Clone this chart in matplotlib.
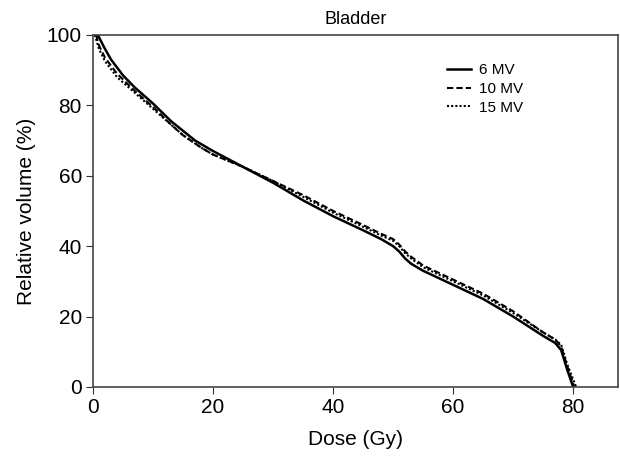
import matplotlib.pyplot as plt

plt.rcParams['font.family'] = ['Liberation Sans', 'DejaVu Sans']

# dose-volume data
dose_6mv = [0.8, 2, 3, 5, 7, 10, 13, 17, 20, 25, 30, 35, 40, 45, 48, 50,
            51, 52, 53, 55, 60, 65, 70, 75, 77, 78, 79, 80]
vol_6mv = [100, 96, 93, 88.5, 85, 80.5, 75.5, 70, 67, 62.5, 58, 53, 48.5, 44.5, 42, 40,
           38.5, 36.5, 35, 33, 29, 25, 20, 14.5, 12.5, 10.5, 5, 0]

dose_10mv = [0.5, 1, 2, 4, 7, 10, 13, 15, 18, 20, 25, 30, 35, 40, 45, 48, 50,
             51, 52, 53, 55, 60, 65, 70, 75, 77, 78, 79, 80.2]
vol_10mv = [100, 97, 93.5, 89, 84, 79.5, 74.5, 71.5, 68, 66, 62.5, 58.5, 54.5, 50, 46, 43.5, 42,
            40.5, 38.5, 37, 34.5, 30.5, 26.5, 21.5, 15.5, 13.5, 11.5, 6, 0]

dose_15mv = [0.3, 1, 2, 4, 7, 10, 13, 15, 18, 20, 25, 30, 35, 40, 45, 48, 50,
             51, 52, 53, 55, 60, 65, 70, 75, 77, 78, 79, 80.5]
vol_15mv = [100, 96, 92.5, 88, 83.5, 79, 74.5, 71.5, 68, 66, 62.5, 58.5, 54, 49.5, 45.5, 43, 41.5,
            40, 38, 36.5, 34, 30, 26, 21, 15.5, 13.5, 12, 6.5, 0]

fig = plt.figure(figsize=(6.2, 4.59), dpi=100)
ax = fig.add_axes([0.15, 0.157, 0.847, 0.767])

ax.plot(dose_6mv, vol_6mv, color='black', lw=1.8, ls='-', label='6 MV')
ax.plot(dose_10mv, vol_10mv, color='black', lw=1.5, ls=(0, (3, 1.5)), label='10 MV')
ax.plot(dose_15mv, vol_15mv, color='black', lw=1.5, ls=(0, (1, 1)), label='15 MV')

ax.set_xlim(0, 87.5)
ax.set_ylim(0, 100)
ax.set_xticks([0, 20, 40, 60, 80])
ax.set_yticks([0, 20, 40, 60, 80, 100])
ax.tick_params(labelsize=15, direction='out', length=5, color='#333333', pad=3)
for sp in ax.spines.values():
    sp.set_color('#444444')
    sp.set_linewidth(1.2)

ax.set_xlabel('Dose (Gy)', fontsize=15, labelpad=9)
ax.set_ylabel('Relative volume (%)', fontsize=15, labelpad=8)
ax.set_title('Bladder', fontsize=13, pad=8)

ax.legend(loc='upper left', bbox_to_anchor=(0.648, 0.958), frameon=False,
          fontsize=11, handlelength=1.6, handletextpad=0.5, labelspacing=0.3)

plt.savefig('out.png', dpi=100)
